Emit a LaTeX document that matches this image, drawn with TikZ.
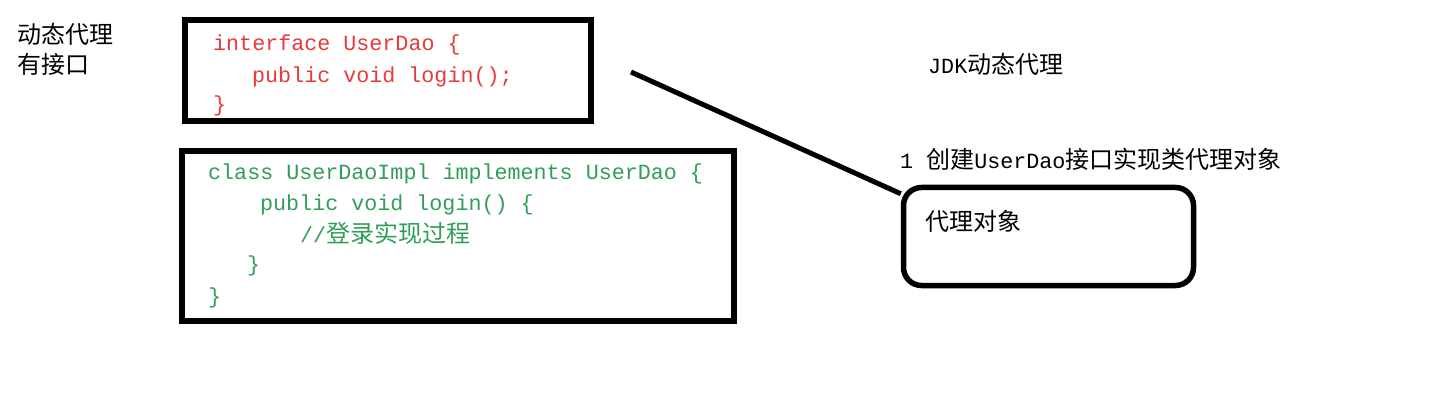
\documentclass[tikz,border=0pt]{standalone}
\usepackage{fontspec}
\setmonofont{Liberation Mono}
\newfontfamily\cjk{Noto Sans CJK SC}
\newcommand{\zh}[1]{{\cjk\fontsize{24}{28}\selectfont #1}}
\definecolor{codered}{RGB}{232,58,58}
\definecolor{codegreen}{RGB}{48,158,88}

\begin{document}
\begin{tikzpicture}[x=1pt, y=-1pt,
    box/.style={draw=black, line width=5.5pt, inner sep=0pt},
    code/.style={anchor=base west, inner sep=0pt, font=\ttfamily\fontsize{21.7}{26}\selectfont},
    note/.style={code, text=black}]
  \useasboundingbox (0,0) rectangle (1446,406);

  % boxes
  \node[box, minimum width=406pt, minimum height=101pt] (iface) at (388,70.5) {};
  \node[box, minimum width=552pt, minimum height=170pt] (impl) at (458,236) {};
  \node[box, rounded corners=18pt, minimum width=290pt, minimum height=98pt] (proxy) at (1048.5,236.5) {};

  % left labels
  \node[note] (title) at (17,44) {\zh{动态代理}};
  \node[note] (hasiface) at (17,74) {\zh{有接口}};

  % interface code
  \node[code, text=codered] (ifaceA) at (213,51) {interface UserDao \{};
  \node[code, text=codered] (ifaceB) at (252,83) {public void login();};
  \node[code, text=codered] (ifaceC) at (213,112) {\}};

  % implementation code
  \node[code, text=codegreen] (implA) at (208,180) {class UserDaoImpl implements UserDao \{};
  \node[code, text=codegreen] (implB) at (260,211) {public void login() \{};
  \node[code, text=codegreen] (implC) at (300,243) {//\zh{登录实现过程}};
  \node[code, text=codegreen] (implD) at (247,272) {\}};
  \node[code, text=codegreen] (implE) at (208,303) {\}};

  % right side
  \node[note] (jdk) at (928,74) {JDK\zh{动态代理}};
  \node[note] (step1) at (900,169) {1 \zh{创建}UserDao\zh{接口实现类代理对象}};
  \node[note] (proxytxt) at (925,231) {\zh{代理对象}};

  \coordinate (start) at (631,72);
  \draw[line width=5pt] (start) -- ([yshift=-9pt]proxy.north west);
\end{tikzpicture}
\end{document}
